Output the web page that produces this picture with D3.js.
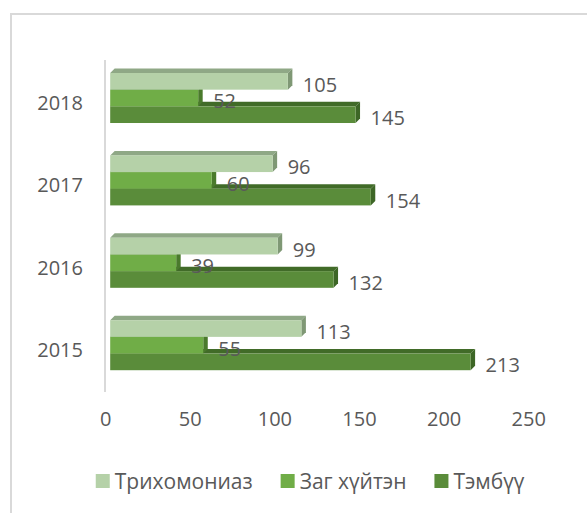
<!DOCTYPE html>
<html>
<head>
<meta charset="utf-8">
<script src="https://cdn.jsdelivr.net/npm/d3@7"></script>
<style>
  body { margin: 0; background: #fff; }
  text { font-family: "Open Sans", "Noto Sans", sans-serif; fill: #595959; }
</style>
</head>
<body>
<div id="container"></div>
<script>
const years = ["2018", "2017", "2016", "2015"];
const seriesNames = ["Трихомониаз", "Заг хүйтэн", "Тэмбүү"];
const trich = [105, 96, 99, 113];
const zag = [52, 60, 39, 55];
const tembuu = [145, 154, 132, 213];
const xTicks = [0, 50, 100, 150, 200, 250];

const width = 587;
const height = 513;
const depth = 4.5;
const colors = [
  {front: "#b5d1a8", top: "#8fa886", side: "#7f9875"},
  {front: "#70ad47", top: "#4f8030", side: "#4a7a2c"},
  {front: "#5a8c3a", top: "#416b28", side: "#3d6626"}
];

const data = years.map((y, i) => ({
  year: y,
  values: [trich[i], zag[i], tembuu[i]]
}));

const svg = d3.select("#container")
              .append("svg")
              .attr("width", width)
              .attr("height", height);

// outer frame
svg.append("path")
   .attr("d", "M11,513V14H587")
   .attr("fill", "none")
   .attr("stroke", "#d9d9d9")
   .attr("stroke-width", 2);

const x = d3.scaleLinear()
            .domain([0, 250])
            .range([110.2, 533.2]);

const y = d3.scaleBand()
            .domain(years)
            .range([56.8, 386.4])
            .paddingInner(0.393)
            .paddingOuter(0.1965);

const ySub = d3.scaleBand()
               .domain([0, 1, 2])
               .range([0, y.bandwidth()]);

// vertical axis line
svg.append("line")
   .attr("x1", 105).attr("x2", 105)
   .attr("y1", 60).attr("y2", 392)
   .attr("stroke", "#d9d9d9")
   .attr("stroke-width", 2);

// bars, bottom series first so upper bars overlap them
const groups = svg.append("g")
                  .selectAll("g")
                  .data(data)
                  .enter()
                  .append("g")
                  .attr("transform", (d) => "translate(0," + y(d.year) + ")");

[2, 1, 0].forEach((s) => {
  const x0 = x(0);
  const h = ySub.bandwidth();
  groups.append("path")
        .attr("fill", colors[s].top)
        .attr("d", (d) => {
          const x1 = x(d.values[s]), yy = ySub(s);
          return "M" + x0 + "," + yy + "L" + x1 + "," + yy + "L" + (x1 + depth) + "," + (yy - depth) + "L" + (x0 + depth) + "," + (yy - depth) + "Z";
        });
  groups.append("path")
        .attr("fill", colors[s].side)
        .attr("d", (d) => {
          const x1 = x(d.values[s]), yy = ySub(s);
          return "M" + x1 + "," + yy + "L" + (x1 + depth) + "," + (yy - depth) + "L" + (x1 + depth) + "," + (yy + h - depth) + "L" + x1 + "," + (yy + h) + "Z";
        });
  groups.append("rect")
        .attr("x", x0)
        .attr("y", ySub(s))
        .attr("width", (d) => x(d.values[s]) - x0)
        .attr("height", h)
        .attr("fill", colors[s].front);
});

// value labels
[2, 1, 0].forEach((s) => {
  groups.append("text")
        .attr("x", (d) => x(d.values[s]) + 15)
        .attr("y", ySub(s) + ySub.bandwidth() / 2 + 3)
        .attr("dominant-baseline", "central")
        .style("font-size", "20px")
        .text((d) => d.values[s]);
});

// year labels
svg.append("g")
   .selectAll("text")
   .data(years)
   .enter()
   .append("text")
   .attr("x", 83)
   .attr("y", (d) => y(d) + y.bandwidth() / 2 + 4.5)
   .attr("text-anchor", "end")
   .attr("dominant-baseline", "central")
   .style("font-size", "20px")
   .text((d) => d);

// x axis tick labels
const xAxis = d3.axisBottom(x)
                .tickValues(xTicks)
                .tickSize(0)
                .tickPadding(0);
const xg = svg.append("g")
              .attr("transform", "translate(-5, 412)")
              .call(xAxis);
xg.select(".domain").remove();
xg.selectAll("text")
  .attr("fill", "#595959")
  .style("font-size", "20px")
  .style("font-family", "'Open Sans', sans-serif");

// legend
const legend = svg.append("g").attr("id", "legend");
let lx = 0;
seriesNames.forEach((name, i) => {
  const item = legend.append("g").attr("transform", "translate(" + lx + ",0)");
  item.append("rect")
      .attr("x", 0).attr("y", -7)
      .attr("width", 14).attr("height", 14)
      .attr("fill", colors[i].front);
  const t = item.append("text")
                .attr("x", 19)
                .attr("y", 0)
                .attr("dominant-baseline", "central")
                .style("font-size", "21px")
                .text(name);
  lx += 19 + t.node().getComputedTextLength() + 28;
});
const legendW = lx - 28;
legend.attr("transform", "translate(" + (310 - legendW / 2) + ",481)");
</script>
</body>
</html>
